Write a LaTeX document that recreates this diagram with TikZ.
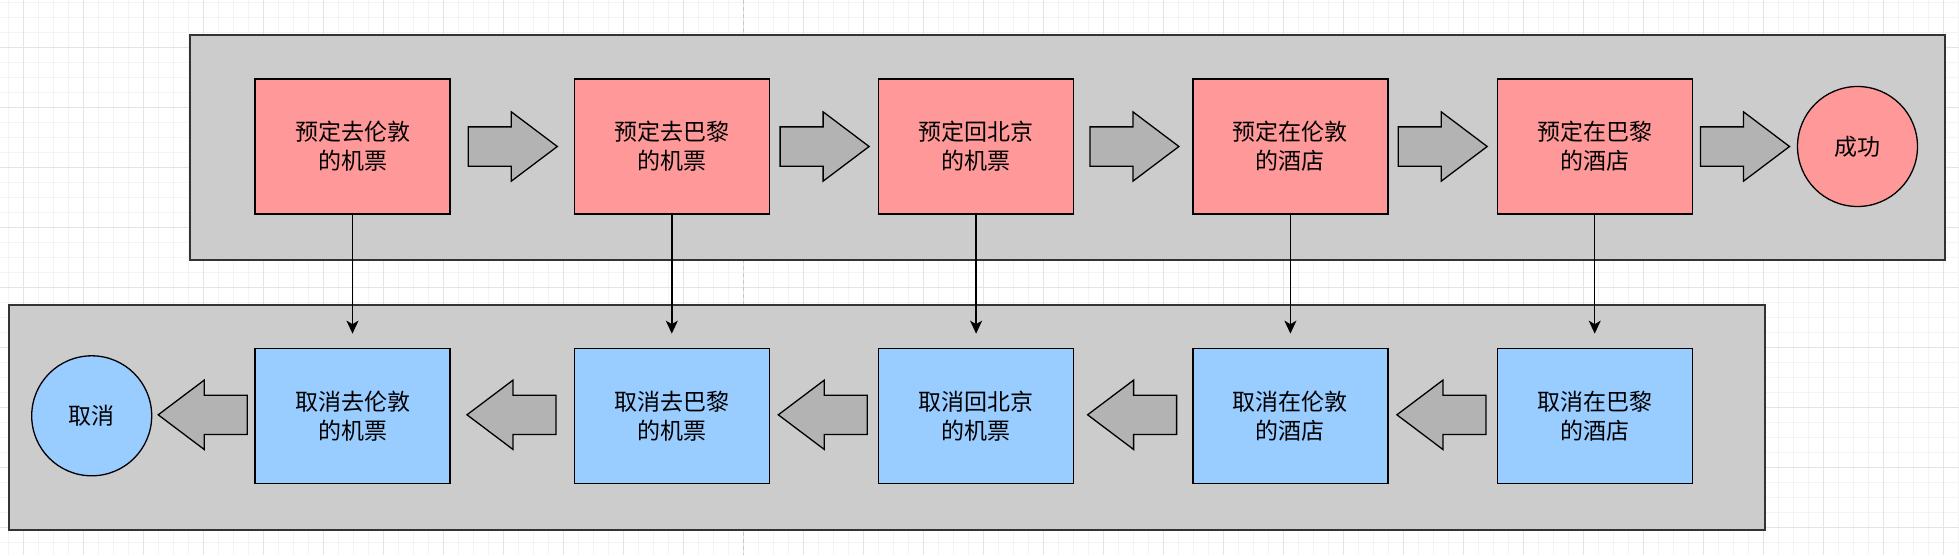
\documentclass[tikz,border=0pt]{standalone}
\usepackage{fontspec}
\setmainfont{Noto Sans CJK SC}
\usepackage{tikz}
\usetikzlibrary{shapes.geometric, shapes.arrows, arrows.meta, positioning, calc}
\definecolor{redBoxBg}{HTML}{FF9999}
\definecolor{blueBoxBg}{HTML}{99CCFF}
\definecolor{groupFg}{HTML}{333333}
\definecolor{groupBg}{HTML}{CCCCCC}
\definecolor{flowBg}{HTML}{B3B3B3}
\definecolor{gridMajor}{HTML}{E4E4E4}
\definecolor{gridMinor}{HTML}{F4F4F4}
\definecolor{pageLine}{HTML}{C8C8C8}
\tikzstyle{arrow} = [line width=1.4pt, -{Stealth[length=13pt, width=12pt, inset=3.5pt]}]
\tikzstyle{group} = [rectangle, draw=groupFg, fill=groupBg, line width=2pt, inner sep=0pt]
\tikzstyle{basic} = [rectangle, minimum width=195pt, minimum height=135pt, align=center, draw=black, line width=1.3pt, font=\fontsize{23}{29}\selectfont]
\tikzstyle{endpoint} = [circle, minimum size=120pt, draw=black, line width=1.3pt, font=\fontsize{23}{29}\selectfont]
\tikzstyle{redstyle} = [fill=redBoxBg]
\tikzstyle{bluestyle} = [fill=blueBoxBg]
\tikzstyle{flow} = [single arrow, draw=black, fill=flowBg, line width=1.3pt, minimum height=89pt, minimum width=68pt, single arrow head extend=15pt, single arrow tip angle=74, inner xsep=0pt, inner ysep=19pt]
\tikzstyle{back} = [flow, shape border rotate=180]

\begin{document}
\begin{tikzpicture}[x=1pt, y=-1pt, node distance=0mm]

\useasboundingbox (0,0) rectangle (1959,555);
\fill [white] (0,0) rectangle (1959,555);

% grid of the canvas
\foreach \i in {0,...,130} \draw [gridMinor, line width=1pt] ({8.6+15*\i},0) -- ++(0,555);
\foreach \j in {0,...,36} \draw [gridMinor, line width=1pt] (0,{2.3+15*\j}) -- ++(1959,0);
\foreach \i in {0,...,32} \draw [gridMajor, line width=1.2pt] ({23.6+60*\i},0) -- ++(0,555);
\foreach \j in {0,...,8} \draw [gridMajor, line width=1.2pt] (0,{47.3+60*\j}) -- ++(1959,0);
\draw [pageLine, line width=1.5pt, dash pattern=on 4pt off 3pt] (743.6,0) -- (743.6,555);

\node (upper) [group, minimum width=1755pt, minimum height=225.5pt, anchor=north west] at (189,33.5) {};
\node (lower) [group, minimum width=1756pt, minimum height=225pt, anchor=north west] at (8,304) {};

\node (book1) [basic, redstyle] at (352.5,146.5) {预定去伦敦\\的机票};
\node (book2) [basic, redstyle, anchor=west, xshift=123pt] at(book1.east) {预定去巴黎\\的机票};
\node (book3) [basic, redstyle, anchor=west, xshift=108pt] at(book2.east) {预定回北京\\的机票};
\node (book4) [basic, redstyle, anchor=west, xshift=118pt] at(book3.east) {预定在伦敦\\的酒店};
\node (book5) [basic, redstyle, anchor=west, xshift=108pt] at(book4.east) {预定在巴黎\\的酒店};
\node (done) [endpoint, redstyle, anchor=west, xshift=104pt] at(book5.east) {成功};

\node (undo1) [basic, bluestyle, anchor=north, yshift=-133pt] at(book1.south) {取消去伦敦\\的机票};
\node (undo2) [basic, bluestyle, anchor=north, yshift=-133pt] at(book2.south) {取消去巴黎\\的机票};
\node (undo3) [basic, bluestyle, anchor=north, yshift=-133pt] at(book3.south) {取消回北京\\的机票};
\node (undo4) [basic, bluestyle, anchor=north, yshift=-133pt] at(book4.south) {取消在伦敦\\的酒店};
\node (undo5) [basic, bluestyle, anchor=north, yshift=-133pt] at(book5.south) {取消在巴黎\\的酒店};
\node (abort) [endpoint, bluestyle, anchor=east, xshift=-102pt] at(undo1.west) {取消};

\node (go1) [flow, anchor=tail, xshift=17pt] at(book1.east) {};
\node (go2) [flow, anchor=tail, xshift=9.5pt] at(book2.east) {};
\node (go3) [flow, anchor=tail, xshift=15pt] at(book3.east) {};
\node (go4) [flow, anchor=tail, xshift=9pt] at(book4.east) {};
\node (go5) [flow, anchor=tail, xshift=7pt] at(book5.east) {};

\node (back1) [back, anchor=tail, xshift=-6.5pt, yshift=1pt] at(undo1.west) {};
\node (back2) [back, anchor=tail, xshift=-17pt, yshift=1pt] at(undo2.west) {};
\node (back3) [back, anchor=tail, xshift=-10pt, yshift=1pt] at(undo3.west) {};
\node (back4) [back, anchor=tail, xshift=-15pt, yshift=1pt] at(undo4.west) {};
\node (back5) [back, anchor=tail, xshift=-10pt, yshift=1pt] at(undo5.west) {};

\draw [arrow, shorten >=14pt] (book1.south) -- (undo1.north);
\draw [arrow, shorten >=14pt] (book2.south) -- (undo2.north);
\draw [arrow, shorten >=14pt] (book3.south) -- (undo3.north);
\draw [arrow, shorten >=14pt] (book4.south) -- (undo4.north);
\draw [arrow, shorten >=14pt] (book5.south) -- (undo5.north);

\end{tikzpicture}
\end{document}
